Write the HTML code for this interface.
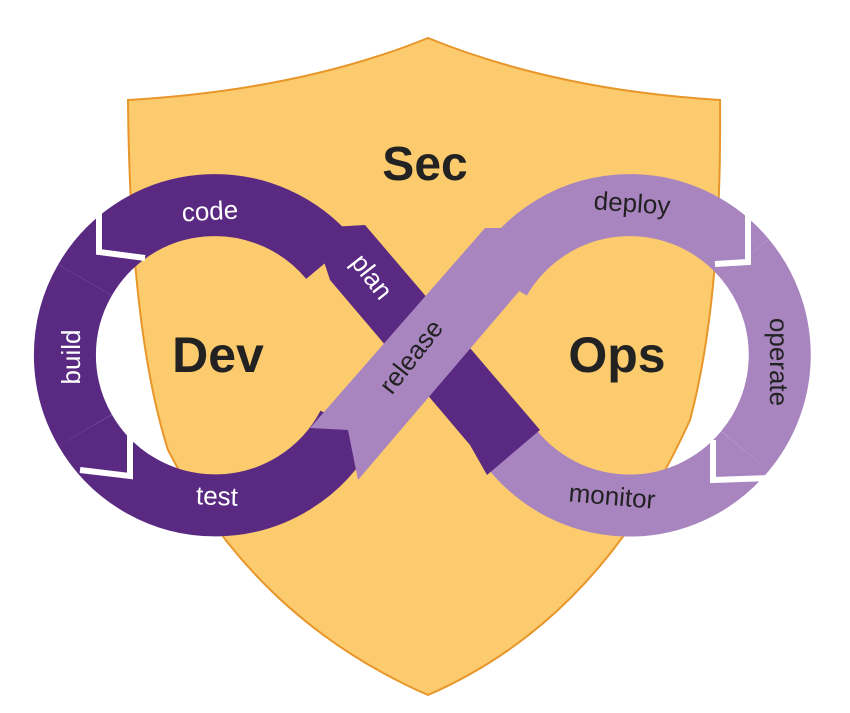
<!DOCTYPE html>
<html><head><meta charset="utf-8"><style>
html,body{margin:0;padding:0;background:#fff;}
svg{display:block;}
text{font-family:"Liberation Sans",sans-serif;}
</style></head><body>
<svg width="850" height="713" viewBox="0 0 850 713">
<circle cx="215" cy="355" r="118" fill="#fff"/>
<circle cx="630" cy="355" r="118" fill="#fff"/>
<clipPath id="sh"><path d="M128,100 Q300,90 428,38 Q556,90 720,100 Q722,300 690,420 Q600,620 428,695 Q256,620 168,450 Q130,330 128,100 Z"/></clipPath>
<g clip-path="url(#sh)"><rect width="850" height="713" fill="#fccb6e"/></g>
<path d="M128,100 Q300,90 428,38 Q556,90 720,100 Q722,300 690,420 Q600,620 428,695 Q256,620 168,450 Q130,330 128,100 Z" fill="none" stroke="#e8962a" stroke-width="2"/>
<g fill="none" stroke-width="62">
<path d="M85,280 A150,150 0 0 1 330,259" stroke="#5a2a82"/>
<path d="M85,280 A150,150 0 0 0 85,430" stroke="#5a2a82"/>
<path d="M85,430 A150,150 0 0 0 348,425" stroke="#5a2a82"/>
<path d="M500,280 A150,150 0 0 1 745,259" stroke="#a985c0"/>
<path d="M745,259 A150,150 0 0 1 745,451" stroke="#a985c0"/>
<path d="M745,451 A150,150 0 0 1 498,428" stroke="#a985c0"/>
</g>
<g stroke="#fff" stroke-width="6" fill="none">
<path d="M99,200 L99,252 L145,258"/>
<path d="M80,470 L130,476 L130,420"/>
<path d="M748,195 L748,262 L715,264"/>
<path d="M713,440 L713,480 L770,478"/>
</g>
<polygon points="313,228 365,225 540,430 487,475 470,445 330,280" fill="#5a2a82"/>
<polygon points="310,428 348,430 358,480 533,275 533,228 485,228" fill="#a985c0"/>
<text x="425" y="180" font-size="48" font-weight="bold" fill="#222" text-anchor="middle">Sec</text>
<text x="218" y="372" font-size="50" font-weight="bold" fill="#222" text-anchor="middle">Dev</text>
<text x="617" y="372" font-size="50" font-weight="bold" fill="#222" text-anchor="middle">Ops</text>
<g font-size="26" fill="#fff" text-anchor="middle">
<text x="210" y="220" transform="rotate(-3 210 212)">code</text>
<text transform="translate(80,357) rotate(-90)">build</text>
<text x="217" y="505" transform="rotate(2 217 497)">test</text>
<text transform="translate(365,282) rotate(52)">plan</text>
<text transform="translate(418,362) rotate(-52)" fill="#222">release</text>
</g>
<g font-size="26" fill="#222" text-anchor="middle">
<text x="632" y="212" transform="rotate(4 632 205)">deploy</text>
<text transform="translate(770,362) rotate(90)">operate</text>
<text x="612" y="505" transform="rotate(5 612 497)">monitor</text>
</g>
</svg>
</body></html>
